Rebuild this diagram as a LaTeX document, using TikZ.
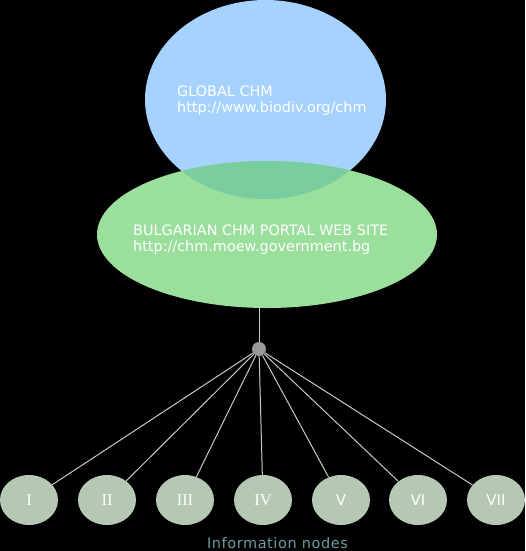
\documentclass[tikz,border=0pt]{standalone}
\usepackage{fontspec}
\setmainfont{DejaVu Sans}
\newfontfamily\romanfont{Liberation Serif}
\usetikzlibrary{shapes.geometric}

\definecolor{chmblue}{RGB}{166,210,255}
\definecolor{chmgreen}{RGB}{154,223,156}
\definecolor{chmoverlap}{RGB}{121,205,158}
\definecolor{infonode}{RGB}{180,200,180}
\definecolor{hubgray}{RGB}{153,153,153}
\definecolor{linkgray}{RGB}{200,200,200}
\definecolor{captioncol}{RGB}{108,156,156}

\begin{document}
\begin{tikzpicture}[
  x=1pt, y=-1pt,
  portal/.style={ellipse, inner sep=0pt},
  portaltext/.style={text=white, align=left, inner sep=0pt, anchor=base west,
    font=\fontsize{14.4}{16.5}\selectfont},
  info/.style={ellipse, fill=infonode, inner sep=0pt, minimum width=58pt, minimum height=50pt,
    text=white, font=\fontsize{15}{15}\selectfont},
  hubdot/.style={circle, fill=hubgray, inner sep=0pt, minimum size=14pt},
  link/.style={draw=linkgray, line width=1pt}
]
\fill[black] (0,0) rectangle (525,551);
\useasboundingbox (0,0) rectangle (525,551);

\node[portal, fill=chmblue, minimum width=241pt, minimum height=199pt] (global) at (265.5,99.5) {};
\node[portal, fill=chmgreen, minimum width=340pt, minimum height=147pt] (bulgarian) at (267,234.5) {};
\begin{scope}
  \clip (265.5,99.5) ellipse [x radius=120.5pt, y radius=99.5pt];
  \fill[chmoverlap] (267,234.5) ellipse [x radius=170pt, y radius=73.5pt];
\end{scope}

% base anchor sits on the second line
\node[portaltext] (globaltext) at (177,112.5) {GLOBAL CHM\\http://www.biodiv.org/chm};
\node[portaltext] (bulgariantext) at (133,251.5) {BULGARIAN CHM PORTAL WEB SITE\\http://chm.moew.government.bg};

\node[hubdot] (hub) at (259,349) {};
\draw[link] (hub) -- (hub |- bulgarian.south);

\node[info] (n1) at (29,500) {\romanfont\fontsize{16.5}{16.5}\selectfont I};
\node[info] (n2) at (107,500) {\romanfont\fontsize{16.5}{16.5}\selectfont II};
\node[info] (n3) at (185,500) {\romanfont\fontsize{16.5}{16.5}\selectfont III};
\node[info] (n4) at (263,500) {\romanfont\fontsize{16.5}{16.5}\selectfont IV};
\node[info] (n5) at (341,500) {V};
\node[info] (n6) at (418,500) {VI};
\node[info] (n7) at (496,500) {VII};

\draw[link] (hub) -- (n1);
\draw[link] (hub) -- (n2);
\draw[link] (hub) -- (n3);
\draw[link] (hub) -- (n4);
\draw[link] (hub) -- (n5);
\draw[link] (hub) -- (n6);
\draw[link] (hub) -- (n7);

\node[text=captioncol, font=\fontsize{14.5}{14.5}\selectfont\addfontfeature{LetterSpace=4}, anchor=base] (caption) at (277.5,548) {Information nodes};
\end{tikzpicture}
\end{document}
